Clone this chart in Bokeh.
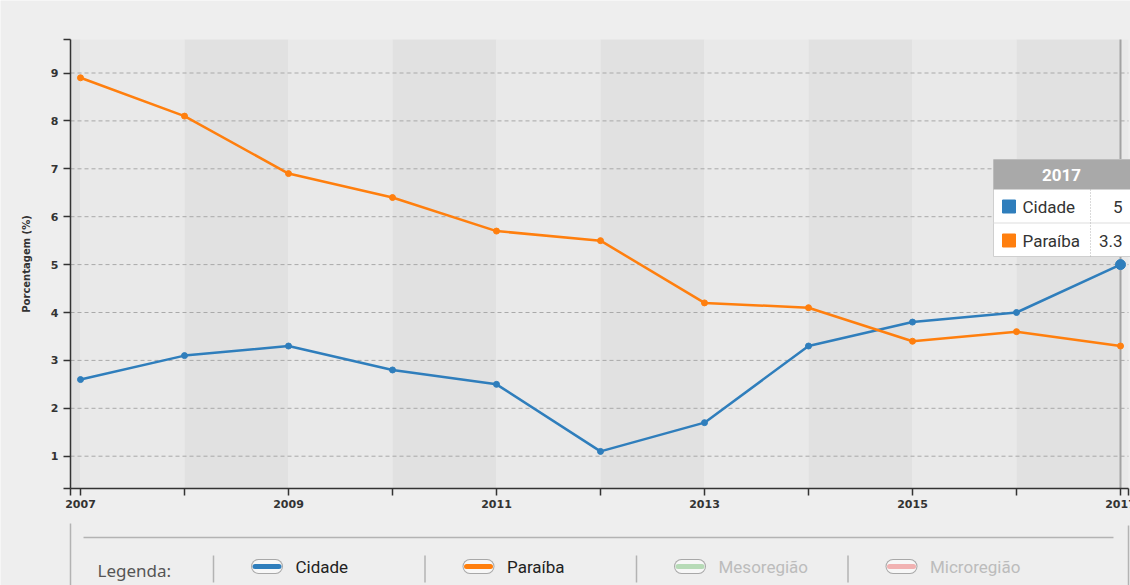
from bokeh.plotting import figure
from bokeh.models import Range1d, FixedTicker
from bokeh.core.properties import value
from bokeh.embed import file_html
from bokeh.resources import INLINE

# ---------------- data ----------------
years = [2007, 2008, 2009, 2010, 2011, 2012, 2013, 2014, 2015, 2016, 2017]
cidade = [2.6, 3.1, 3.3, 2.8, 2.5, 1.1, 1.7, 3.3, 3.8, 4.0, 5.0]
paraiba = [8.9, 8.1, 6.9, 6.4, 5.7, 5.5, 4.2, 4.1, 3.4, 3.6, 3.3]
y_ticks = [1, 2, 3, 4, 5, 6, 7, 8, 9]
series_names = ["Cidade", "Paraíba"]
series_values = [cidade, paraiba]
series_colors = ["#2f7ebc", "#ff7f0e"]
legend_names = ["Cidade", "Paraíba", "Mesoregião", "Microregião"]
legend_colors = ["#2f7ebc", "#ff7f0e", "#b7dbb7", "#f1b2b2"]
legend_active = [True, True, False, False]
y_title = "Porcentagem (%)"
legend_title = "Legenda:"

# ---------------- layout (pixel geometry) ----------------
W, H = 1130, 585
PPX = 104.0          # pixels per year
PPY = 47.9           # pixels per unit
XR0 = years[0] - 80 / PPX          # data x at page pixel 0
YR1 = y_ticks[0] + 455.7 / PPY     # data y at page pixel 0 (top)


def px2x(px):
    return XR0 + px / PPX


def py2y(py):
    return YR1 - py / PPY


X0, X1 = px2x(70), px2x(1128)     # plot area horizontal extent
Y0, Y1 = py2y(488), py2y(39)      # plot area vertical extent

p = figure(width=W, height=H, x_range=Range1d(px2x(0), px2x(W)), y_range=Range1d(py2y(H), py2y(0)),
           output_backend="svg", toolbar_location=None,
           min_border_left=0, min_border_right=0, min_border_top=0, min_border_bottom=0)
p.outline_line_color = None
p.background_fill_color = "#eeeeee"
p.border_fill_color = "#eeeeee"

# alternating column bands
edges = [X0] + years + [X1]
band_colors = ["#e1e1e1" if i % 2 == 0 else "#e9e9e9" for i in range(len(edges) - 1)]
p.quad(left=edges[:-1], right=edges[1:], bottom=Y0, top=Y1,
       fill_color=band_colors, line_color=None, level="image")

# horizontal dashed grid, limited to the plot area
p.xgrid.visible = False
p.ygrid.visible = False
p.segment(x0=[X0] * len(y_ticks), x1=[X1] * len(y_ticks), y0=y_ticks, y1=y_ticks,
          line_color="#a9a9a9", line_dash="4 3", line_width=1)

# axes
xt0, xt1 = X0 + 1e-4, X1 - 1e-4
yt0, yt1 = Y0 + 1e-4, Y1 - 1e-4
xa, ya = p.xaxis[0], p.yaxis[0]
xa.fixed_location = Y0
xa.bounds = (X0, X1)
ya.fixed_location = X0
ya.bounds = (Y0, Y1)
xa.ticker = FixedTicker(ticks=[xt0] + years + [xt1])
xo = {xt0: "", xt1: ""}
for i, y in enumerate(years):
    if i % 2 == 1:
        xo[y] = ""
xa.major_label_overrides = xo
ya.ticker = FixedTicker(ticks=[yt0] + y_ticks + [yt1])
ya.major_label_overrides = {yt0: "", yt1: ""}
for ax in (xa, ya):
    ax.axis_line_color = "#333333"
    ax.axis_line_width = 1.5
    ax.major_tick_line_color = "#333333"
    ax.major_tick_line_width = 1.5
    ax.major_tick_out = 7
    ax.major_tick_in = 0
    ax.minor_tick_line_color = None
    ax.major_label_text_font = "DejaVu Sans"
    ax.major_label_text_font_style = "bold"
    ax.major_label_text_font_size = "11px"
    ax.major_label_text_color = "#333333"
xa.major_label_standoff = 4
ya.major_label_standoff = 5
ya.axis_label = y_title
ya.axis_label_text_font = "DejaVu Sans"
ya.axis_label_text_font_style = "bold"
ya.axis_label_text_font_size = "10px"
ya.axis_label_text_color = "#333333"
ya.axis_label_standoff = 16

# hover line at last year
p.segment(x0=[years[-1]], y0=[Y0], x1=[years[-1]], y1=[Y1], line_color="#a3a3a3", line_width=2)

# series
for vals, col in zip(series_values, series_colors):
    p.line(years, vals, line_color=col, line_width=2.5)
    p.scatter(years, vals, size=6, fill_color=col, line_color=col)
p.scatter([years[-1]], [cidade[-1]], size=10, fill_color=series_colors[0], line_color=series_colors[0])

# tooltip
tl, tr = 993, 1140
tt, th, tm, tb = 159, 189, 222.5, 256
p.quad(left=[px2x(tl)], right=[px2x(tr)], top=[py2y(tt)], bottom=[py2y(tb)],
       fill_color="#ffffff", line_color="#cfcfcf", line_width=1)
p.quad(left=[px2x(tl)], right=[px2x(tr)], top=[py2y(tt)], bottom=[py2y(th)],
       fill_color="#a9a9a9", line_color=None)
p.segment(x0=[px2x(tl)], x1=[px2x(tr)], y0=[py2y(tm)], y1=[py2y(tm)], line_color="#dddddd", line_width=1)
p.segment(x0=[px2x(1090)], x1=[px2x(1090)], y0=[py2y(th)], y1=[py2y(tb)],
          line_color="#b5b5b5", line_width=1, line_dash="1 2")
row_y = [py2y(206), py2y(240)]
p.scatter(x=[px2x(1008.5)] * 2, y=row_y, marker="square", size=13,
          fill_color=series_colors, line_color=series_colors)
p.text(x=[px2x(1022)] * 2, y=row_y, text=series_names, text_baseline="middle", text_align="left",
       text_font=value("Roboto"), text_font_size="17px", text_color="#333333")
p.text(x=[px2x(1122)] * 2, y=row_y, text=[f"{v[-1]:g}" for v in series_values],
       text_baseline="middle", text_align="right",
       text_font=value("Roboto"), text_font_size="17px", text_color="#333333")
p.text(x=[px2x(1061)], y=[py2y(174)], text=[str(years[-1])], text_baseline="middle", text_align="center",
       text_font=value("Roboto"), text_font_style="bold", text_font_size="17px", text_color="#ffffff")

# ---------------- legend strip ----------------
p.segment(x0=[px2x(70), px2x(83), px2x(1128)], y0=[py2y(523), py2y(537), py2y(525)],
          x1=[px2x(70), px2x(1113), px2x(1128)], y1=[py2y(600), py2y(537), py2y(600)],
          line_color="#b3b3b3", line_width=1.5)
p.text(x=[px2x(97)], y=[py2y(569.5)], text=[legend_title], text_baseline="middle",
       text_font=value("Noto Sans"), text_font_size="17px", text_color="#555555")

n = len(legend_names)
pill_l = [251 + 211.5 * i for i in range(n)]
cy = py2y(566)
p.segment(x0=[px2x(v - 38) for v in pill_l], x1=[px2x(v - 38) for v in pill_l],
          y0=[py2y(555)] * n, y1=[py2y(582)] * n, line_color="#b3b3b3", line_width=1.5)
p.segment(x0=[px2x(v + 7) for v in pill_l], x1=[px2x(v + 24) for v in pill_l], y0=[cy] * n, y1=[cy] * n,
          line_color="#a8a8a8", line_width=15, line_cap="round")
p.segment(x0=[px2x(v + 7) for v in pill_l], x1=[px2x(v + 24) for v in pill_l], y0=[cy] * n, y1=[cy] * n,
          line_color="#f7f7f7", line_width=13, line_cap="round")
p.segment(x0=[px2x(v + 3.5) for v in pill_l], x1=[px2x(v + 27.5) for v in pill_l], y0=[cy] * n, y1=[cy] * n,
          line_color=legend_colors, line_width=5, line_cap="round")
p.text(x=[px2x(v + 44) for v in pill_l], y=[cy] * n, text=legend_names, text_baseline="middle",
       text_font=value("Roboto"), text_font_size="17px",
       text_color=["#222222" if a else "#bcbcbc" for a in legend_active])

open("out.html", "w").write(file_html(p, INLINE))
